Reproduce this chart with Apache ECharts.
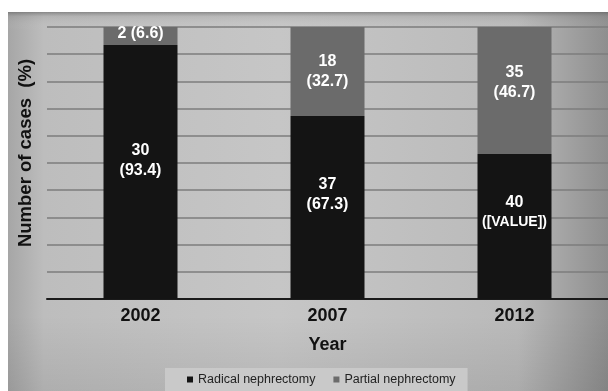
<!DOCTYPE html>
<html>
<head>
<meta charset="utf-8">
<title>Nephrectomy type by year</title>
<script src="https://cdn.jsdelivr.net/npm/echarts@6/dist/echarts.min.js"></script>
<style>
  html, body { margin: 0; padding: 0; background: #ffffff; }
  #chart { width: 608px; height: 391px; }
</style>
</head>
<body>
<div id="chart"></div>
<script>
// Years on the category axis
var years = ['2002', '2007', '2012'];

// Radical nephrectomy: case counts and share of cases (%)
var radicalCounts = [30, 37, 40];
var radicalPercent = [93.4, 67.3, 53.3];
var radicalPercentText = ['93.4', '67.3', '[VALUE]'];

// Partial nephrectomy: case counts and share of cases (%)
var partialCounts = [2, 18, 35];
var partialPercent = [6.6, 32.7, 46.7];
var partialPercentText = ['6.6', '32.7', '46.7'];

var FONT = '"Liberation Sans", Arial, Helvetica, sans-serif';

// Small vertical nudges that lift each label a little above its segment's centre
var radicalLabelShift = [-11, -13, -14];
var partialLabelShift = [-2, 0, -8];

function labelText(count, pctText, pct) {
  // thin segments keep count and percentage on a single line
  return pct < 10 ? count + ' (' + pctText + ')' : count + '\n(' + pctText + ')';
}

function buildData(values, counts, texts, shifts) {
  return values.map(function (v, i) {
    var label = {
      formatter: labelText(counts[i], texts[i], v),
      offset: [0, shifts[i]]
    };
    // placeholder text is set a little smaller so it stays inside the bar
    if (isNaN(parseFloat(texts[i]))) {
      label.rich = {
        n: { fontFamily: FONT, fontWeight: 'bold', fontSize: 14, color: '#ffffff', lineHeight: 20 },
        w: { fontFamily: FONT, fontWeight: 'bold', fontSize: 16, color: '#ffffff', lineHeight: 20 }
      };
      label.formatter = '{w|' + counts[i] + '}\n{n|(' + texts[i] + ')}';
    }
    return { value: v, label: label };
  });
}

var barLabel = {
  show: true,
  position: 'inside',
  color: '#ffffff',
  fontFamily: FONT,
  fontWeight: 'bold',
  fontSize: 16,
  lineHeight: 20
};

var chart = echarts.init(document.getElementById('chart'), null, { renderer: 'canvas' });

chart.setOption({
  backgroundColor: '#ffffff',
  animation: false,
  graphic: [
    {
      // grey backdrop of the chart panel
      type: 'rect',
      z: -10,
      shape: { x: 8, y: 12, width: 600, height: 379 },
      style: {
        fill: {
          type: 'linear', x: 0, y: 0, x2: 1, y2: 0,
          colorStops: [
            { offset: 0, color: '#a6a6a6' },
            { offset: 0.06, color: '#bdbdbd' },
            { offset: 0.45, color: '#c6c6c6' },
            { offset: 0.85, color: '#bababa' },
            { offset: 1, color: '#8e8e8e' }
          ]
        }
      }
    },
    {
      type: 'rect',
      z: -9,
      shape: { x: 8, y: 12, width: 600, height: 379 },
      style: {
        fill: {
          type: 'linear', x: 0, y: 0, x2: 0, y2: 1,
          colorStops: [
            { offset: 0, color: 'rgba(90,90,90,0.55)' },
            { offset: 0.012, color: 'rgba(120,120,120,0.15)' },
            { offset: 0.05, color: 'rgba(255,255,255,0)' },
            { offset: 0.8, color: 'rgba(0,0,0,0)' },
            { offset: 1, color: 'rgba(0,0,0,0.08)' }
          ]
        }
      }
    }
  ],
  legend: {
    left: 165,
    top: 368,
    width: 303,
    height: 23,
    padding: [5, 12, 5, 22],
    backgroundColor: '#c9c9c9',
    itemWidth: 6,
    itemHeight: 6,
    itemGap: 18,
    icon: 'rect',
    textStyle: { fontFamily: FONT, fontSize: 12.5, color: '#222222' },
    data: ['Radical nephrectomy', 'Partial nephrectomy']
  },
  grid: { left: 47, right: 0, top: 27, bottom: 92, containLabel: false },
  xAxis: {
    type: 'category',
    data: years,
    axisLine: { show: true, lineStyle: { color: '#1a1a1a', width: 2 } },
    axisTick: { show: false },
    axisLabel: {
      margin: 8,
      fontFamily: FONT,
      fontWeight: 'bold',
      fontSize: 18,
      color: '#111111'
    },
    name: 'Year',
    nameLocation: 'middle',
    nameGap: 37,
    nameTextStyle: { fontFamily: FONT, fontWeight: 'bold', fontSize: 18, color: '#111111' }
  },
  yAxis: {
    type: 'value',
    min: 0,
    max: 100,
    interval: 10,
    axisLine: { show: false },
    axisTick: { show: false },
    axisLabel: { show: false },
    splitLine: { show: true, lineStyle: { color: '#7c7c7c', width: 1.5 } },
    name: 'Number of cases  (%)',
    nameLocation: 'middle',
    nameGap: 12,
    nameRotate: 90,
    nameTextStyle: {
      fontFamily: FONT, fontWeight: 'bold', fontSize: 18.5, color: '#111111',
      padding: [0, 0, 0, 20]
    }
  },
  series: [
    {
      name: 'Radical nephrectomy',
      type: 'bar',
      stack: 'share',
      barWidth: 74,
      itemStyle: { color: '#141414' },
      label: barLabel,
      data: buildData(radicalPercent, radicalCounts, radicalPercentText, radicalLabelShift)
    },
    {
      name: 'Partial nephrectomy',
      type: 'bar',
      stack: 'share',
      barWidth: 74,
      itemStyle: { color: '#6b6b6b' },
      label: barLabel,
      data: buildData(partialPercent, partialCounts, partialPercentText, partialLabelShift)
    }
  ]
});
</script>
</body>
</html>
